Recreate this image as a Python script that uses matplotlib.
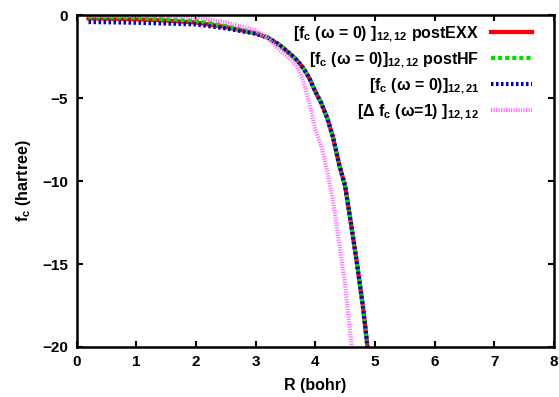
import matplotlib
matplotlib.use("Agg")
import matplotlib.pyplot as plt

plt.rcParams['font.family'] = ['Liberation Sans', 'DejaVu Sans']
plt.rcParams['font.weight'] = 'bold'
plt.rcParams['mathtext.fontset'] = 'custom'
plt.rcParams['mathtext.rm'] = 'Liberation Sans:bold'
plt.rcParams['mathtext.bf'] = 'Liberation Sans:bold'
plt.rcParams['mathtext.it'] = 'Liberation Sans:bold'
plt.rcParams['mathtext.default'] = 'bf'

# Data
R = [0.2, 0.5, 1.0, 1.5, 2.0, 2.5, 3.0, 3.2, 3.4, 3.6, 3.7, 3.8, 3.9,
     4.0, 4.1, 4.2, 4.3, 4.4, 4.5, 4.6, 4.7, 4.8, 4.9]
fc_postEXX = [-0.20, -0.21, -0.25, -0.33, -0.45, -0.72, -1.10, -1.35, -1.80,
              -2.40, -2.75, -3.20, -3.80, -4.60, -5.30, -6.20, -7.40, -9.00,
              -10.30, -12.60, -15.00, -17.60, -20.80]
fc_postHF = [-0.10, -0.11, -0.16, -0.25, -0.36, -0.66, -1.07, -1.33, -1.78,
             -2.40, -2.75, -3.20, -3.80, -4.60, -5.30, -6.20, -7.40, -9.00,
             -10.30, -12.60, -15.00, -17.60, -20.80]
fc_12_21 = [-0.42, -0.43, -0.46, -0.51, -0.56, -0.80, -1.12, -1.36, -1.80,
            -2.40, -2.75, -3.20, -3.80, -4.60, -5.30, -6.20, -7.40, -9.00,
            -10.30, -12.60, -15.00, -17.60, -20.80]
R_delta = [0.2, 0.5, 1.0, 1.5, 2.0, 2.5, 3.0, 3.2, 3.4, 3.6, 3.7, 3.8, 3.9,
           4.0, 4.1, 4.2, 4.3, 4.4, 4.5, 4.6, 4.7]
dfc_w1 = [-0.05, -0.05, -0.05, -0.07, -0.12, -0.45, -0.90, -1.40, -2.10,
          -2.70, -3.10, -4.00, -5.30, -6.90, -7.90, -9.40, -11.30, -13.70,
          -16.30, -19.60, -23.00]

labels = [r'[f$_{c}$ ($\omega$ = 0) ]$_{12,12}$ postEXX',
          r'[f$_{c}$ ($\omega$ = 0)]$_{12,12}$ postHF',
          r'[f$_{c}$ ($\omega$ = 0)]$_{12,21}$',
          r'[$\Delta$ f$_{c}$ ($\omega$=1) ]$_{12,12}$']
xticks = [0, 1, 2, 3, 4, 5, 6, 7, 8]
yticks = [0, -5, -10, -15, -20]

fig = plt.figure(figsize=(5.59, 3.97), dpi=100)
ax = fig.add_axes([0.137, 0.126, 0.854, 0.836])

ax.plot(R, fc_postEXX, color='#ff0000', lw=3, ls='-', label=labels[0])
ax.plot(R, fc_postHF, color='#00dd00', lw=3, ls=(0, (1.0, 0.7)), label=labels[1])
ax.plot(R, fc_12_21, color='#0000cc', lw=3, ls=(0, (0.6, 0.6)), label=labels[2])
ax.plot(R_delta, dfc_w1, color='#ff77ff', lw=3, ls=(0, (0.3, 0.3)), label=labels[3])

ax.set_xlim(0, 8)
ax.set_ylim(-20, 0)
ax.set_xticks(xticks)
ax.set_yticks(yticks)
ax.tick_params(direction='in', length=4, width=1.5, top=True, right=True,
               labelsize=11, pad=6)
for s in ax.spines.values():
    s.set_linewidth(1.8)
for lab in ax.get_xticklabels() + ax.get_yticklabels():
    lab.set_fontweight('bold')

ax.set_xlabel('R (bohr)', fontsize=11.5, fontweight='bold', labelpad=6)
ax.set_ylabel(r'f$_{c}$ (hartree)', fontsize=11.5, fontweight='bold', labelpad=7)

leg = ax.legend(loc='upper right', markerfirst=False, frameon=False,
                fontsize=11.5, handlelength=2.6, handletextpad=0.75,
                labelspacing=0.4, borderaxespad=0.2,
                bbox_to_anchor=(0.975, 1.0))
for t in leg.get_texts():
    t.set_ha('right')

fig.savefig('out.png', dpi=100)
